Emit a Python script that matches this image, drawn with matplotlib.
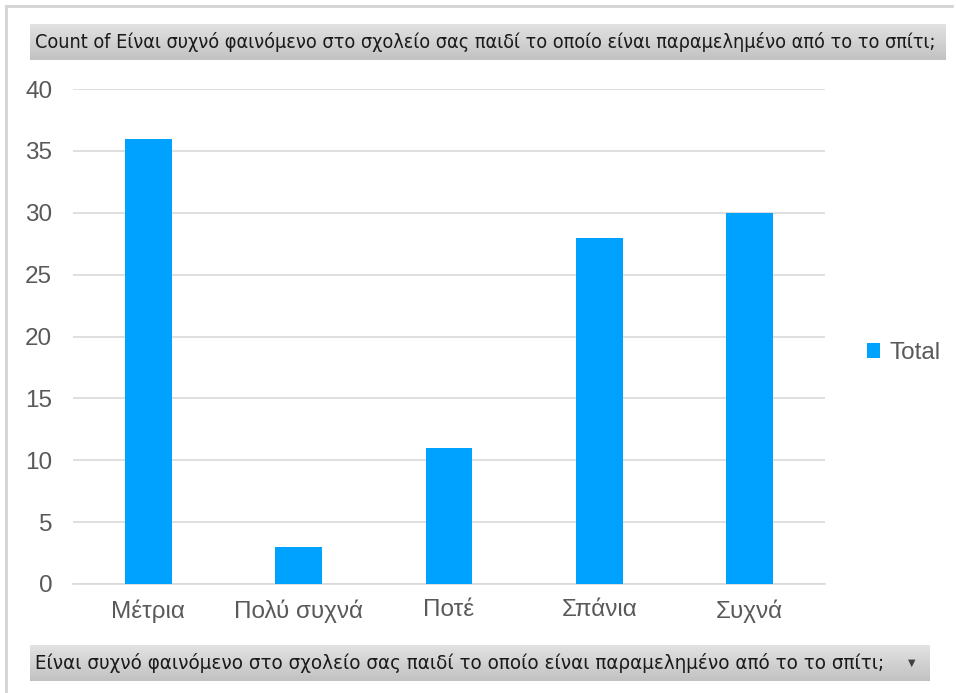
import matplotlib
matplotlib.use("Agg")
import matplotlib.pyplot as plt
from matplotlib.lines import Line2D
import numpy as np

categories = ["Μέτρια", "Πολύ συχνά", "Ποτέ", "Σπάνια", "Συχνά"]
values = [36, 3, 11, 28, 30]
yticks = [0, 5, 10, 15, 20, 25, 30, 35, 40]
series_name = "Total"
title_text = "Count of Είναι συχνό φαινόμενο στο σχολείο σας παιδί το οποίο είναι παραμελημένο από το το σπίτι;"
field_text = "Είναι συχνό φαινόμενο στο σχολείο σας παιδί το οποίο είναι παραμελημένο από το το σπίτι;"

W, H = 956, 693
fig = plt.figure(figsize=(W/100, H/100), dpi=100)
fig.patch.set_facecolor("white")

def fx(px): return px / W
def fy(py): return 1 - py / H

# outer border (left and top only visible)
fig.lines.append(Line2D([fx(6), fx(6)], [fy(6), 0], transform=fig.transFigure,
                        color="#D4D4D4", linewidth=2))
fig.lines.append(Line2D([fx(6), fx(952)], [fy(6), fy(6)], transform=fig.transFigure,
                        color="#D4D4D4", linewidth=2))

narrow = ["DejaVu Sans"]
arial = ["Liberation Sans", "DejaVu Sans"]

def grad_box(x0, y0, x1, y1):
    axb = fig.add_axes([fx(x0), fy(y1), fx(x1 - x0), (y1 - y0)/H])
    g = np.linspace(0, 1, 50).reshape(-1, 1)
    axb.imshow(g, aspect="auto", cmap=matplotlib.colors.LinearSegmentedColormap.from_list(
        "g", ["#E2E2E2", "#C2C2C2"]), extent=[0, 1, 0, 1], origin="upper")
    axb.set_xlim(0, 1); axb.set_ylim(0, 1)
    axb.axis("off")
    return axb

renderer = fig.canvas.get_renderer()

def fitted_text(axb, x0px, box_x0, box_x1, text, target_w):
    t = axb.text((x0px - box_x0) / (box_x1 - box_x0), 0.5, text, ha="left", va="center",
                 fontsize=14, family=narrow, fontstretch="condensed", color="#1A1A1A")
    w = t.get_window_extent(renderer=renderer).width
    t.set_fontsize(14 * target_w / w)
    return t

tb = grad_box(30, 24, 946, 60)
fitted_text(tb, 35, 30, 946, title_text, 905)

bb = grad_box(30, 645, 930, 681)
fitted_text(bb, 35, 30, 930, field_text, 850)
bb.text((912 - 30) / 900, 0.5, "▼", ha="center", va="center", fontsize=7, color="#404040",
        family=["DejaVu Sans"])

# main axes
x0, x1 = 73, 825
y_top, y_bot = 89, 584
ax = fig.add_axes([fx(x0), fy(y_bot), fx(x1 - x0), (y_bot - y_top)/H])
x = np.arange(len(categories))
ax.bar(x, values, width=0.31, color="#00A2FF", label=series_name, zorder=3)
ax.set_xlim(-0.5, len(categories) - 0.5)
ax.set_ylim(0, 40)
ax.set_yticks(yticks)
ax.set_yticklabels([str(t) for t in yticks], family=arial, fontsize=17.5, color="#595959")
ax.set_xticks(x)
ax.set_xticklabels(categories, family=arial, fontsize=17.5, color="#595959")
ax.tick_params(axis="both", length=0)
ax.tick_params(axis="y", pad=15)
ax.tick_params(axis="x", pad=11)
ax.grid(axis="y", color="#D9D9D9", linewidth=1.2, zorder=0)
for s in ["top", "right", "left"]:
    ax.spines[s].set_visible(False)
ax.spines["bottom"].set_color("#D9D9D9")
ax.spines["bottom"].set_linewidth(1.2)

leg = fig.legend(loc="center left", bbox_to_anchor=(fx(845), fy(353)), frameon=False,
                 prop={"family": arial, "size": 17.5}, handlelength=0.55, handleheight=0.55,
                 handletextpad=0.4)
for t in leg.get_texts():
    t.set_color("#595959")

fig.savefig("out.png", dpi=100)
